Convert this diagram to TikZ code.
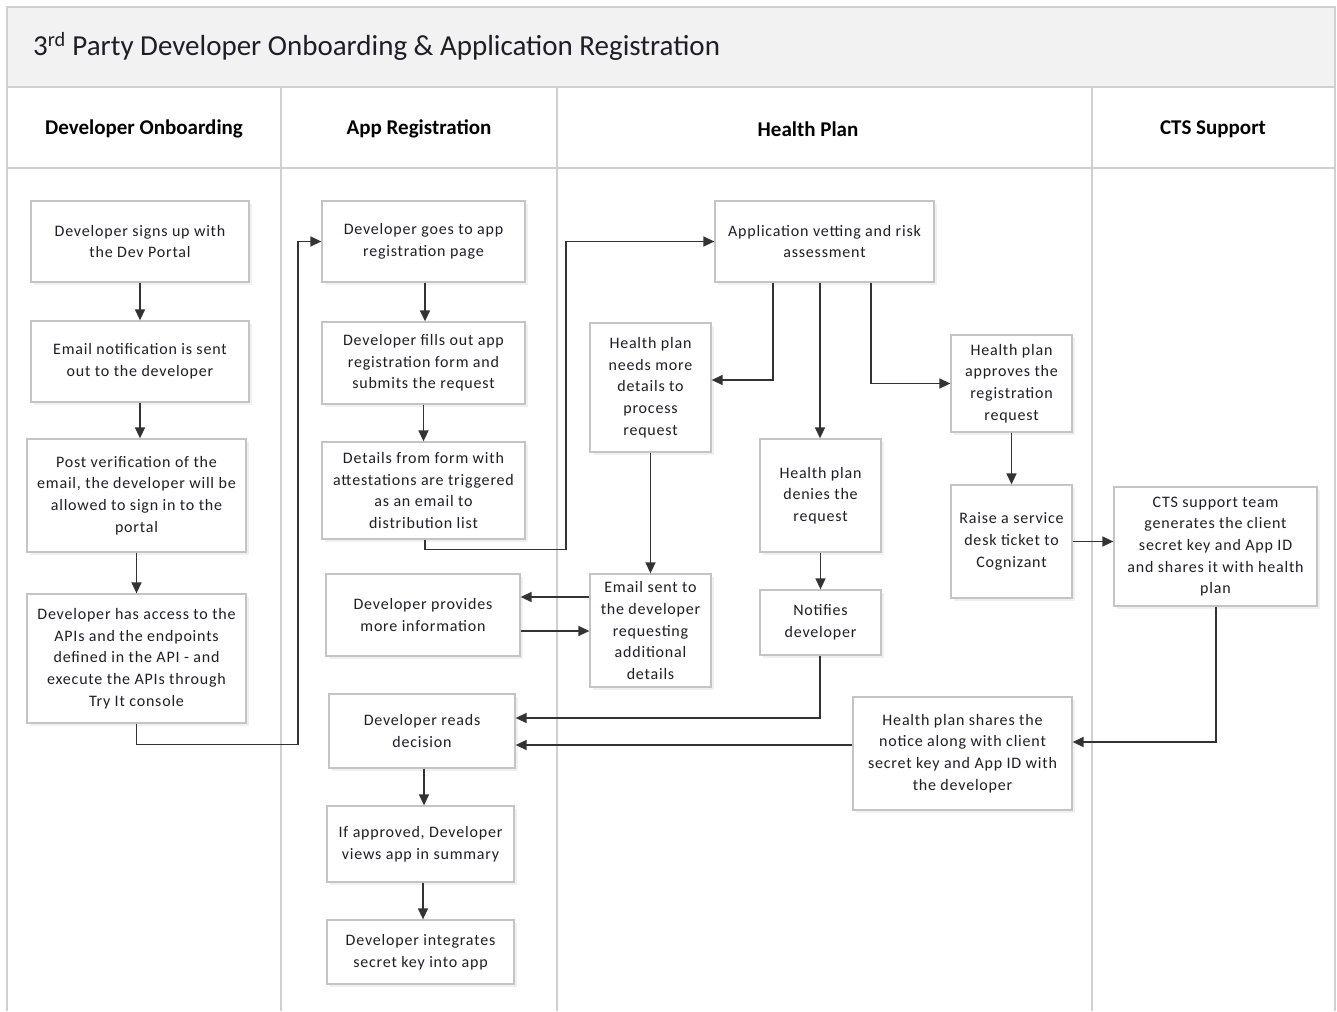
\documentclass[tikz,border=0pt]{standalone}
\usepackage{fontspec}
\setmainfont{Carlito}
\newfontfamily\boxfont[LetterSpace=5]{Carlito}
\usetikzlibrary{arrows.meta,shadows,calc}
\definecolor{lanegray}{HTML}{D0D0D0}
\definecolor{boxgray}{HTML}{C4C4C4}
\definecolor{titlefill}{HTML}{F2F2F2}
\definecolor{txt}{HTML}{1E1E28}
\definecolor{linec}{HTML}{333333}
\tikzset{
  box/.style={draw=boxgray, line width=1.3pt, fill=white, align=center, inner sep=0pt,
    text=txt, font=\boxfont\fontsize{16}{21.7}\selectfont,
    drop shadow={opacity=0.12, shadow xshift=2.5pt, shadow yshift=-2.5pt}},
  arr/.style={draw=linec, line width=1.5pt, -{Triangle[length=11pt,width=10pt]}},
  lane/.style={draw=lanegray, line width=2pt},
  hdr/.style={font=\fontsize{21}{25}\selectfont\bfseries, text=black}
}
\begin{document}
\begin{tikzpicture}[x=1pt,y=-1pt]
\useasboundingbox (0,0) rectangle (1337,1011);
% frame
\fill[titlefill] (7,7) rectangle (1335,87);
\draw[lane] (7,1011) -- (7,7) -- (1335,7) -- (1335,1011);
\draw[lane] (7,87) -- (1335,87);
\draw[lane] (7,168) -- (1335,168);
\draw[lane] (281,87) -- (281,1011);
\draw[lane] (557,87) -- (557,1011);
\draw[lane] (1092,87) -- (1092,1011);
\node[anchor=base west, font=\fontsize{29}{34}\selectfont, text=txt, inner sep=0pt] (title) at (33,56) {3\textsuperscript{rd} Party Developer Onboarding \& Application Registration};
\node[hdr] (h1) at (144,129) {Developer Onboarding};
\node[hdr] (h2) at (419,129) {App Registration};
\node[hdr] (h3) at (808,129) {Health Plan};
\node[hdr] (h4) at (1213,129) {CTS Support};
% boxes
\node[box, minimum width=218pt, minimum height=81pt] (b1) at (140,241.5) {Developer signs up with\\the Dev Portal};
\node[box, minimum width=218pt, minimum height=81pt] (b2) at (140,361.5) {Email notification is sent\\out to the developer};
\node[box, minimum width=219pt, minimum height=113pt] (b3) at (136.5,495.5) {Post verification of the\\email, the developer will be\\allowed to sign in to the\\portal};
\node[box, minimum width=219pt, minimum height=129pt] (b4) at (136.5,658.5) {Developer has access to the\\APIs and the endpoints\\defined in the API - and\\execute the APIs through\\Try It console};
\node[box, minimum width=203pt, minimum height=81pt] (b5) at (423.5,241.5) {Developer goes to app\\registration page};
\node[box, minimum width=203pt, minimum height=82pt] (b6) at (423.5,363) {Developer fills out app\\registration form and\\submits the request};
\node[box, minimum width=203pt, minimum height=97pt] (b7) at (423.5,490.5) {Details from form with\\attestations are triggered\\as an email to\\distribution list};
\node[box, minimum width=194pt, minimum height=82pt] (b8) at (423,615) {Developer provides\\more information};
\node[box, minimum width=186pt, minimum height=74pt] (b9) at (422,731) {Developer reads\\decision};
\node[box, minimum width=187pt, minimum height=76pt] (b10) at (420.5,844) {If approved, Developer\\views app in summary};
\node[box, minimum width=187pt, minimum height=64pt] (b11) at (420.5,952) {Developer integrates\\secret key into app};
\node[box, minimum width=219pt, minimum height=81pt] (b12) at (824.5,241.5) {Application vetting and risk\\assessment};
\node[box, minimum width=121pt, minimum height=129pt] (b13) at (650.5,387.5) {Health plan\\needs more\\details to\\process\\request};
\node[box, minimum width=121pt, minimum height=97pt] (b14) at (1011.5,383.5) {Health plan\\approves the\\registration\\request};
\node[box, minimum width=121pt, minimum height=113pt] (b15) at (820.5,495.5) {Health plan\\denies the\\request};
\node[box, minimum width=121pt, minimum height=113pt] (b16) at (650.5,630.5) {Email sent to\\the developer\\requesting\\additional\\details};
\node[box, minimum width=121pt, minimum height=65pt] (b17) at (820.5,622.5) {Notifies\\developer};
\node[box, minimum width=121pt, minimum height=113pt] (b18) at (1011.5,541.5) {Raise a service\\desk ticket to\\Cognizant};
\node[box, minimum width=203pt, minimum height=119pt] (b19) at (1215.5,546.5) {CTS support team\\generates the client\\secret key and App ID\\and shares it with health\\plan};
\node[box, minimum width=219pt, minimum height=113pt] (b20) at (962.5,753.5) {Health plan shares the\\notice along with client\\secret key and App ID with\\the developer};
% connectors
\draw[arr] (b1) -- (b2);
\draw[arr] (b2.south) -- (b2.south |- b3.north);
\draw[arr] (b3) -- (b4);
\coordinate (c4a) at ($(b4.south)+(0,21)$);
\coordinate (c4b) at (298,744);
\draw[arr] (b4.south) -- (c4a) -| (c4b) |- (b5.west);
\draw[arr] ([xshift=1.5pt]b5.south) -- ([xshift=1.5pt]b5.south |- b6.north);
\draw[arr] (b6) -- (b7);
\coordinate (c7a) at ($(b7.south)+(0,10)$);
\coordinate (c7b) at (566,549);
\draw[arr] ([xshift=1.5pt]b7.south) -- ([xshift=1.5pt]c7a) -| (c7b) |- (b12.west);
\coordinate (v1) at ([xshift=-51.5pt]b12.south);
\coordinate (v2) at ([xshift=-4.5pt]b12.south);
\coordinate (v3) at ([xshift=46.5pt]b12.south);
\draw[arr] (v1) |- ([yshift=7.5pt]b13.east);
\draw[arr] (v2) -- (v2 |- b15.north);
\draw[arr] (v3) |- (b14.west);
\draw[arr] (b14) -- (b14.south |- b18.north);
\draw[arr] (b18.east) -- (b18.east -| b19.west);
\coordinate (c19) at (1216,742);
\draw[arr] (b19.south -| c19) -- (c19) -- (c19 -| b20.east);
\draw[arr] (b20.west |- 0,745) -- (b9.east |- 0,745);
\draw[arr] (b15) -- (b17);
\coordinate (c17) at (820,718);
\draw[arr] (b17.south -| c17) -- (c17) -- (c17 -| b9.east);
\draw[arr] (b13) -- (b16);
\draw[arr] (b16.west |- 0,597) -- (b8.east |- 0,597);
\draw[arr] (b8.east |- 0,631) -- (b16.west |- 0,631);
\draw[arr] ([xshift=2pt]b9.south) -- ([xshift=2pt]b9.south |- b10.north);
\draw[arr] ([xshift=2.5pt]b10.south) -- ([xshift=2.5pt]b10.south |- b11.north);
\end{tikzpicture}
\end{document}
